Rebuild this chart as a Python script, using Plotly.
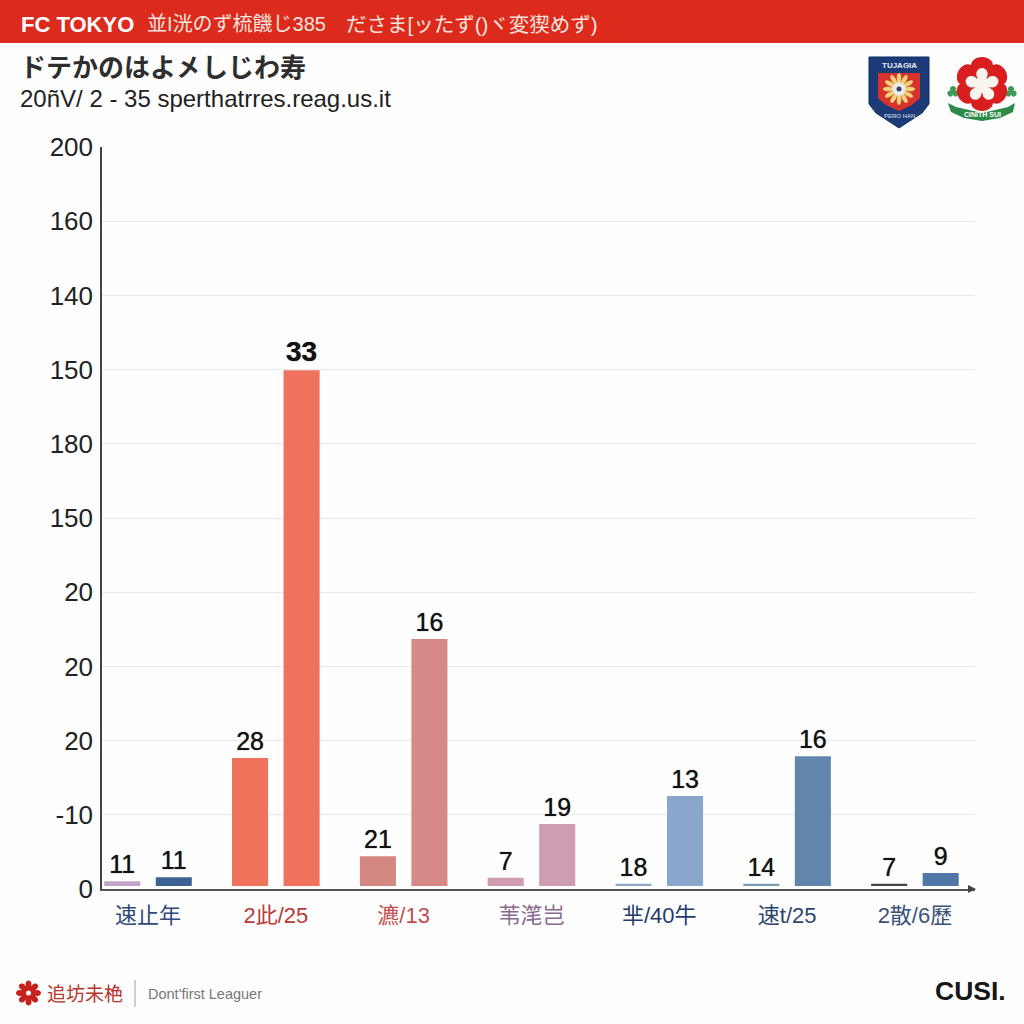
import math
import plotly.graph_objects as go

categories = ["速止年", "2此/25", "瀌/13", "苇滗岂", "芈/40牛", "速t/25", "2散/6歷"]
category_colors = ["#2f4a78", "#b83a3a", "#c0504f", "#8a6a90", "#1f3a6e", "#2c456e", "#3c5278"]

series_a = [1.3, 34.5, 8.0, 2.2, 0.6, 0.6, 0.6]
series_b = [2.4, 139.0, 66.6, 16.7, 24.3, 35.0, 3.5]
labels_a = ["11", "28", "21", "7", "18", "14", "7"]
labels_b = ["11", "33", "16", "19", "13", "16", "9"]
colors_a = ["#c2a5c8", "#ef725b", "#d58781", "#cf9cb0", "#8fa8c8", "#7b9cb5", "#444444"]
colors_b = ["#3d6394", "#ef735c", "#d68a88", "#cf9db1", "#89a6cc", "#6285ab", "#4f76a6"]

y_tick_values = [0, 20, 40, 60, 80, 100, 120, 140, 160, 180, 200]
y_tick_labels = ["0", "-10", "20", "20", "20", "150", "180", "150", "140", "160", "200"]

header_left = "FC TOKYO"
header_right = "並I洸のず梳饑じ385"
header_far = "ださま[ッたず()ヾ変猰めず)"
title_text = "ドテかのはよ㐅しじわ寿"
subtitle_text = "20ñV/ 2 - 35 sperthatrres.reag.us.it"
footer_cjk = "追坊未栬"
footer_latin = "Dont'first Leaguer"
footer_brand = "CUSI."

SANS = "Liberation Sans, Arial, sans-serif"
CJK = "Liberation Sans, Noto Sans CJK JP, sans-serif"
SIZE = 1024.0
BAR_BASE = 0.8
LABEL_SHADOW = "0 0 1px #444444"


def px(x):
    return x / SIZE


def py(y):
    return 1 - y / SIZE


def path(points):
    return "M " + " L ".join(f"{px(x):.5f},{py(y):.5f}" for x, y in points) + " Z"


def shape_path(points, fill, line=None, width=0):
    return dict(type="path", xref="paper", yref="paper", path=path(points), fillcolor=fill,
                line=dict(color=line or fill, width=width), layer="above")


def circle(cx, cy, r, fill):
    return dict(type="circle", xref="paper", yref="paper", x0=px(cx - r), x1=px(cx + r),
                y0=py(cy + r), y1=py(cy - r), fillcolor=fill, line=dict(width=0), layer="above")


def flower(cx, cy, r_out, r_in, petals, fill, rot=0):
    pts = []
    n = petals * 12
    for i in range(n):
        t = 2 * math.pi * i / n + rot
        r = r_in + (r_out - r_in) * abs(math.cos(petals * (t - rot) / 2)) ** 0.6
        pts.append((cx + r * math.sin(t), cy - r * math.cos(t)))
    return shape_path(pts, fill)


def text(x, y, s, size, color, font=CJK, anchor="left"):
    nudge = 2 if anchor == "left" else 0
    return dict(xref="paper", yref="paper", x=px(x - nudge), y=py(y), text=s, showarrow=False,
                xanchor=anchor, yanchor="middle", font=dict(size=size, color=color, family=font))


fig = go.Figure()
common = dict(x=categories, base=BAR_BASE, textposition="outside", cliponaxis=False,
              constraintext="none", showlegend=False)
fig.add_bar(y=series_a, text=labels_a, marker=dict(color=colors_a, line=dict(width=0)),
            textfont=dict(size=25, color="#111111", family=SANS, shadow=LABEL_SHADOW), **common)
fig.add_bar(y=series_b, text=[f"<b>{t}</b>" if t == "33" else t for t in labels_b],
            marker=dict(color=colors_b, line=dict(width=0)),
            textfont=dict(size=[28 if t == "33" else 25 for t in labels_b], color="#111111",
                          family=SANS, shadow=LABEL_SHADOW), **common)

shapes = [
    dict(type="rect", xref="paper", yref="paper", x0=0, x1=1, y0=py(43), y1=1,
         fillcolor="#dc2a1c", line=dict(width=0), layer="below"),
    # footer divider
    dict(type="line", xref="paper", yref="paper", x0=px(135), x1=px(135), y0=py(980), y1=py(1007),
         line=dict(color="#9a9a9a", width=1)),
    # x axis arrow head
    shape_path([(968, 885), (976, 889), (968, 893)], "#444444"),
    # shield logo
    shape_path([(869, 57), (929, 57), (929, 104), (922, 113), (899, 128), (876, 113), (869, 104)],
               "#1c3a78", "#123060", 1),
    shape_path([(878, 73), (920, 73), (920, 98), (912, 105), (899, 111), (886, 105), (878, 98)], "#d8322c"),
    flower(899, 89, 16, 6, 12, "#f2d27a"),
    circle(899, 89, 6.5, "#e8ecf2"),
    circle(899, 89, 2.5, "#34405c"),
    # rosette logo
    shape_path([(948, 103), (956, 107), (982, 113), (1008, 107), (1015, 103), (1013, 112), (1000, 118),
                (982, 121), (964, 118), (951, 112)], "#2f8a4a"),
    flower(953, 92, 6, 2.5, 3, "#3f9a58"),
    flower(1011, 92, 6, 2.5, 3, "#3f9a58"),
    flower(982, 84, 27, 22, 6, "#d81e1e"),
    flower(982, 85, 17, 7, 5, "#f8f4f0"),
    # footer icon
    flower(28.5, 993, 12.5, 7, 8, "#c8211c"),
    circle(28.5, 993, 2.5, "#ffffff"),
]

annotations = [
    text(21, 24, f"<b>{header_left}</b>", 22, "#ffffff", SANS),
    text(147, 24, header_right, 20, "#f7e4df"),
    text(346, 24, header_far, 20.5, "#f7e4df"),
    text(20, 68, f"<b>{title_text}</b>", 26, "#2e2e2e"),
    text(20, 98, subtitle_text, 24, "#222222", SANS),
    text(899, 65, "<b>TUJAGIA</b>", 8, "#e8ecf4", SANS, "center"),
    text(899, 116, "PERO HAN", 6, "#dfe6f2", SANS, "center"),
    text(982, 114, "<b>CINITH SUI</b>", 7, "#ffffff", SANS, "center"),
    text(47, 994, footer_cjk, 19, "#b8342c"),
    text(148, 994, footer_latin, 14.5, "#777777", SANS),
    text(935, 991, f"<b>{footer_brand}</b>", 26.5, "#161616", SANS),
]

fig.update_layout(
    template="none",
    width=1024, height=1024, autosize=False,
    paper_bgcolor="#fefefe", plot_bgcolor="#fefefe",
    margin=dict(l=0, r=0, t=0, b=0, pad=0),
    barmode="group", bargap=0.194, bargroupgap=0.30,
    shapes=shapes, annotations=annotations,
    xaxis=dict(
        automargin=False,
        domain=[px(102), px(975)], range=[-0.36, 6.47], type="category",
        categoryorder="array", categoryarray=categories,
        tickmode="array", tickvals=categories,
        ticktext=[f'<span style="color:{c}">{t}</span>' for t, c in zip(categories, category_colors)],
        tickfont=dict(size=22, family=CJK), ticks="", showgrid=False,
        showline=True, linecolor="#555555", linewidth=2, zeroline=False, ticklabelstandoff=6,
    ),
    yaxis=dict(
        automargin=False,
        domain=[py(889), py(147)], range=[0, 200],
        tickmode="array", tickvals=y_tick_values, ticktext=y_tick_labels,
        tickfont=dict(size=26, family=SANS, color="#222222"), ticks="",
        showgrid=True, gridcolor="#e8e8e8", gridwidth=1,
        showline=True, linecolor="#444444", linewidth=1.5, zeroline=False, ticklabelstandoff=2,
    ),
)

fig.write_html("out.html", config=dict(displayModeBar=False),
               post_script="document.body.style.margin='0';")
